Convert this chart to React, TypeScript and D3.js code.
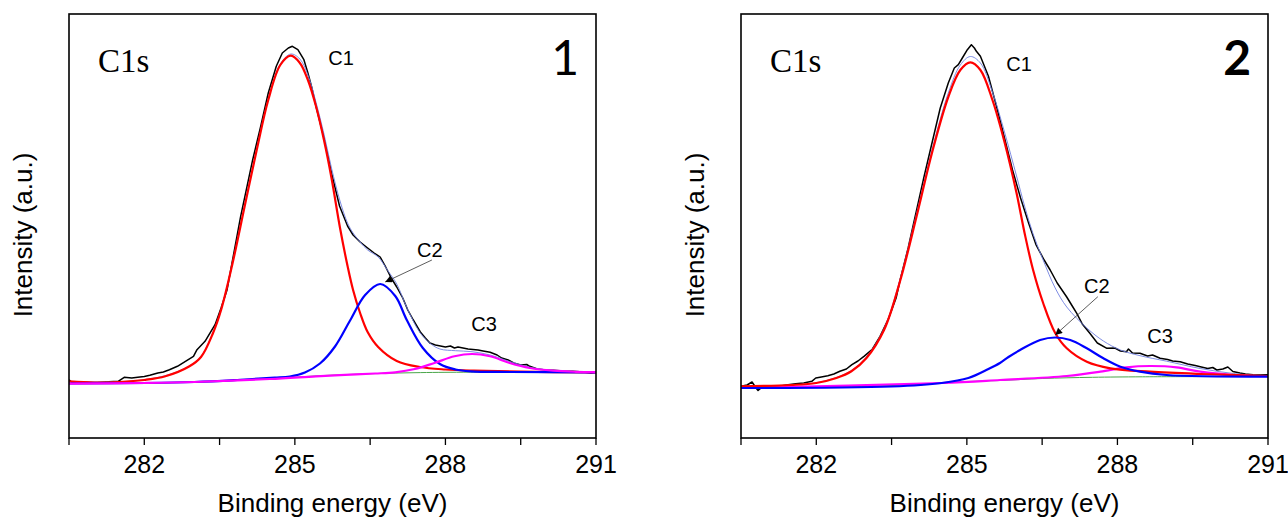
import React from 'react';
import * as d3 from 'd3';

type Pt = [number, number];

// ---- axes ----
const energyDomain: [number, number] = [280.5, 291];
const intensityDomain: [number, number] = [0, 424];
const tickEnergies = [280.5, 282, 283.5, 285, 286.5, 288, 289.5, 291];
const labelledEnergies = [282, 285, 288, 291];
const xTitle = 'Binding energy (eV)';
const yTitle = 'Intensity (a.u.)';
const coreLevel = 'C1s';
const peakNames = ['C1', 'C2', 'C3'];
const panelTags = ['1', '2'];

// ---- sample 1 ----
const spectrum1: Pt[] = [
  [280.5, 58.3], [280.55, 56], [280.69, 55], [280.85, 55.5], [281.0, 55], [281.2, 56], [281.48, 56.7],
  [281.6, 60.7], [281.75, 60], [281.87, 60.7], [282.0, 61.5], [282.11, 62.7], [282.27, 65], [282.38, 66],
  [282.5, 68.3], [282.66, 71.7], [282.82, 76.7], [282.98, 81.7], [283.05, 88.3], [283.21, 96.7],
  [283.41, 113.3], [283.53, 130], [283.65, 148.3], [283.76, 178.3], [283.92, 221.7], [284.16, 278.3],
  [284.32, 311.7], [284.47, 345], [284.63, 371.7], [284.75, 385], [284.87, 390], [284.95, 391.7],
  [285.06, 388.3], [285.18, 378.3], [285.26, 365], [285.34, 350], [285.42, 332], [285.58, 300],
  [285.73, 265], [285.89, 232], [286.05, 212], [286.16, 203], [286.3, 196], [286.45, 190], [286.58, 185],
  [286.7, 181], [286.8, 172], [286.92, 160], [287.03, 151], [287.15, 140], [287.25, 128], [287.36, 118],
  [287.5, 106], [287.6, 100], [287.69, 95], [287.8, 93], [287.9, 92], [288.0, 91], [288.1, 92],
  [288.18, 90], [288.25, 91], [288.35, 90], [288.45, 89], [288.55, 88.5], [288.65, 88], [288.75, 87],
  [288.89, 85.7], [289.03, 83], [289.12, 80], [289.25, 78], [289.36, 75], [289.5, 73], [289.62, 73.5],
  [289.68, 71.7], [289.83, 69], [290.0, 68], [290.15, 67.7], [290.35, 67], [290.54, 66.7], [290.75, 66],
  [290.9, 65], [291.0, 65.7],
];
const envelope1: Pt[] = [
  [280.5, 56.7], [281.5, 56.3], [282.0, 58.3], [282.5, 63.5], [282.9, 72], [283.13, 81.5], [283.37, 105.5],
  [283.53, 128.5], [283.76, 176], [284.0, 232.5], [284.24, 289], [284.47, 339], [284.71, 374], [284.92, 384],
  [285.1, 379], [285.26, 363], [285.42, 336], [285.58, 304], [285.73, 270], [285.9, 237], [286.05, 215],
  [286.16, 205], [286.3, 196], [286.45, 188], [286.66, 181], [286.85, 167.5], [287.03, 154], [287.23, 130.5],
  [287.49, 105.6], [287.7, 94.5], [287.89, 89], [288.2, 87.3], [288.53, 86.3], [288.89, 83], [289.28, 76.5],
  [289.68, 70.8], [290.15, 67.5], [291.0, 65.8],
];
const c1Fit1: Pt[] = [
  [280.5, 56.7], [281.0, 55.5], [281.5, 56], [282.0, 58], [282.42, 61.7], [282.9, 71.7], [283.13, 81],
  [283.37, 105], [283.53, 128], [283.76, 175], [284.0, 231.7], [284.24, 288], [284.47, 338], [284.71, 373],
  [284.92, 382.3], [285.1, 375], [285.26, 358], [285.42, 332], [285.58, 298], [285.73, 260], [285.9, 210],
  [286.05, 172], [286.16, 148], [286.3, 125], [286.45, 106], [286.66, 91], [287.03, 77], [287.49, 71],
  [288.0, 68.5], [288.57, 67.3], [289.5, 66.3], [291.0, 65.7],
];
const c2Fit1: Pt[] = [
  [280.5, 54.5], [283.0, 56], [284.0, 58.5], [284.6, 60.3], [284.9, 61.5], [285.2, 65.5], [285.5, 74.5],
  [285.8, 91.5], [286.1, 117.5], [286.4, 143], [286.7, 154], [287.0, 142], [287.23, 118], [287.55, 90],
  [287.89, 74], [288.2, 68.5], [288.5, 66.6], [289.3, 66], [291.0, 65.7],
];
const c3Fit1: Pt[] = [
  [280.5, 54.3], [282.0, 55], [283.0, 56], [284.5, 59], [285.42, 61.7], [286.0, 63.2], [286.6, 64.5],
  [287.0, 65.7], [287.39, 69], [287.78, 75], [288.18, 81.7], [288.53, 84], [288.89, 81.7], [289.28, 75],
  [289.68, 70], [290.15, 67.3], [290.6, 66.2], [291.0, 65.8],
];
const background1: Pt[] = [
  [280.5, 54.5], [282.0, 55], [283.5, 56.8], [284.5, 59.3], [285.5, 62.3], [286.5, 64.3], [287.5, 65.4],
  [288.5, 65.8], [291.0, 65.8],
];
const peakLabels1: Pt[] = [[285.92, 373.5], [287.69, 181.3], [288.77, 107]];
const c2Arrow1: Pt[] = [[287.73, 178], [286.8, 156]];

// ---- sample 2 ----
const spectrum2: Pt[] = [
  [280.5, 51.7], [280.62, 53], [280.72, 56], [280.8, 50], [280.84, 47.5], [280.9, 50], [280.96, 51],
  [281.1, 52], [281.27, 51.7], [281.4, 53], [281.59, 54.3], [281.75, 55], [281.91, 56.7], [281.99, 60],
  [282.1, 61], [282.23, 62.3], [282.35, 64], [282.47, 66.7], [282.6, 69], [282.71, 73.3], [282.83, 77],
  [282.95, 81.7], [283.11, 88.3], [283.27, 101.7], [283.43, 118.3], [283.59, 140], [283.67, 158],
  [283.83, 190], [283.99, 226], [284.15, 262], [284.31, 296], [284.47, 330], [284.63, 355], [284.75, 370],
  [284.83, 373.3], [284.91, 380], [285.01, 388.3], [285.09, 393.3], [285.15, 390], [285.19, 386.7],
  [285.27, 381.7], [285.43, 361.7], [285.59, 331.7], [285.75, 300], [285.91, 268], [286.07, 240],
  [286.23, 215], [286.38, 193], [286.54, 178], [286.66, 168], [286.8, 155], [286.99, 141], [287.1, 132],
  [287.19, 124.7], [287.3, 114], [287.45, 104.7], [287.6, 95], [287.79, 89.7], [287.95, 90], [288.06, 87],
  [288.18, 86.3], [288.22, 89], [288.3, 85], [288.45, 84.7], [288.6, 82], [288.7, 83], [288.85, 79.7],
  [289.0, 78.5], [289.1, 77], [289.25, 76.3], [289.4, 74], [289.55, 72.5], [289.65, 71.3], [289.8, 69.5],
  [289.9, 70.5], [289.98, 68], [290.1, 69], [290.2, 71], [290.3, 66.5], [290.44, 65], [290.55, 64],
  [290.7, 63.3], [290.85, 63], [291.0, 63.3],
];
const envelope2: Pt[] = [
  [280.5, 51.7], [281.5, 53], [282.0, 55.3], [282.4, 60.5], [282.7, 67.5], [283.0, 81], [283.35, 109.5],
  [283.67, 159], [284.0, 225], [284.31, 289], [284.63, 345], [284.87, 373], [285.07, 381.5], [285.27, 375],
  [285.51, 346], [285.75, 306], [285.99, 262], [286.15, 232], [286.32, 204], [286.52, 178],
  [286.76, 150], [286.99, 131], [287.39, 110], [287.72, 97], [288.06, 88], [288.45, 82.3],
  [288.98, 76.8], [289.65, 69.5], [290.31, 64.5], [291.0, 62],
];
const c1Fit2: Pt[] = [
  [280.5, 51.7], [281.5, 53], [282.0, 55], [282.4, 60], [282.7, 66.7], [283.0, 80], [283.35, 108],
  [283.67, 157], [284.0, 222], [284.31, 286], [284.63, 341], [284.87, 368], [285.07, 375.7], [285.27, 368],
  [285.51, 338], [285.75, 296], [285.99, 245], [286.15, 205], [286.32, 168], [286.52, 135], [286.76, 105],
  [286.99, 89.7], [287.39, 76.3], [287.86, 69.7], [288.65, 66.3], [289.65, 64], [291.0, 62],
];
const c2Fit2: Pt[] = [
  [280.5, 50], [283.5, 51.5], [284.5, 55], [285.03, 60], [285.43, 69], [285.66, 75], [285.83, 81],
  [286.06, 88], [286.46, 98], [286.76, 100.5], [287.06, 98], [287.39, 89.7], [287.72, 79.7], [288.06, 71.3],
  [288.45, 66.3], [288.98, 63], [291.0, 61.3],
];
const c3Fit2: Pt[] = [
  [280.5, 50], [284.5, 55], [285.66, 58], [286.99, 62], [287.66, 66.3], [288.18, 70.7], [288.65, 72],
  [289.18, 70.7], [289.65, 66.3], [290.31, 63], [291.0, 61.8],
];
const background2: Pt[] = [
  [280.5, 50], [282.5, 51], [284.0, 53.5], [285.0, 56.5], [285.66, 57.5], [286.5, 59.5], [287.5, 60.7],
  [288.5, 61.2], [291.0, 61.5],
];
const peakLabels2: Pt[] = [[286.04, 367.3], [287.59, 145], [288.85, 94.7]];
const c2Arrow2: Pt[] = [[287.61, 141.3], [286.76, 103]];

// ---- styling ----
const PLOT_W = 527;
const PLOT_H = 424;
const TOP = 14;
const SANS = 'Arial, "Liberation Sans", Helvetica, sans-serif';

type Series = { key: string; pts: Pt[]; color: string; width: number; smooth: boolean };

type PanelProps = {
  left: number;
  tag: string;
  spectrum: Pt[];
  envelope: Pt[];
  background: Pt[];
  components: Series[];
  labels: Pt[];
  arrow: Pt[];
  idx: number;
};

function Panel({ left, tag, spectrum, envelope, background, components, labels, arrow, idx }: PanelProps) {
  const x = d3.scaleLinear().domain(energyDomain).range([0, PLOT_W]);
  const y = d3.scaleLinear().domain(intensityDomain).range([PLOT_H, 0]);
  const rough = d3.line<Pt>().x((d) => x(d[0])).y((d) => y(d[1]));
  const smooth = d3
    .line<Pt>()
    .x((d) => x(d[0]))
    .y((d) => y(d[1]))
    .curve(d3.curveCatmullRom.alpha(0.5));
  const clipId = `plot-clip-${idx}`;
  const markerId = `arrow-head-${idx}`;

  return (
    <g transform={`translate(${left},${TOP})`}>
      <defs>
        <clipPath id={clipId}>
          <rect x={0} y={0} width={PLOT_W} height={PLOT_H} />
        </clipPath>
        <marker
          id={markerId}
          viewBox="0 0 10 10"
          refX={10}
          refY={5}
          markerWidth={9}
          markerHeight={7}
          markerUnits="userSpaceOnUse"
          orient="auto"
        >
          <path d="M0,0 L10,5 L0,10 z" fill="#000" />
        </marker>
      </defs>

      <g clipPath={`url(#${clipId})`}>
        <path d={rough(spectrum) ?? ''} fill="none" stroke="#000" strokeWidth={1.5} strokeLinejoin="round" />
        <path d={smooth(envelope) ?? ''} fill="none" stroke="#6f7fe0" strokeWidth={0.9} />
        <path d={smooth(background) ?? ''} fill="none" stroke="#4aa64a" strokeWidth={1} />
        {components.map((s) => (
          <path
            key={s.key}
            d={(s.smooth ? smooth : rough)(s.pts) ?? ''}
            fill="none"
            stroke={s.color}
            strokeWidth={s.width}
          />
        ))}
      </g>

      {/* C2 pointer */}
      <line
        x1={x(arrow[0][0])}
        y1={y(arrow[0][1])}
        x2={x(arrow[1][0])}
        y2={y(arrow[1][1])}
        stroke="#333"
        strokeWidth={0.8}
        markerEnd={`url(#${markerId})`}
      />

      {/* peak names */}
      {labels.map((p, i) => (
        <text
          key={peakNames[i]}
          x={x(p[0])}
          y={y(p[1])}
          textAnchor="middle"
          fontFamily={SANS}
          fontSize={20}
          fill="#000"
        >
          {peakNames[i]}
        </text>
      ))}

      <text x={29} y={58} fontFamily='"Times New Roman", "Liberation Serif", serif' fontSize={33} fill="#000">
        {coreLevel}
      </text>
      <text
        x={PLOT_W - 17}
        y={61}
        textAnchor="end"
        fontFamily='Lato, "Open Sans", sans-serif'
        fontSize={48}
        fontWeight={idx === 1 ? 700 : 400}
        fill="#000"
      >
        {tag}
      </text>

      {/* frame */}
      <rect x={0} y={0} width={PLOT_W} height={PLOT_H} fill="none" stroke="#000" strokeWidth={1.6} />

      {/* bottom axis */}
      {tickEnergies.map((e) => (
        <line key={e} x1={x(e)} x2={x(e)} y1={PLOT_H} y2={PLOT_H + 7} stroke="#000" strokeWidth={1.3} />
      ))}
      {labelledEnergies.map((e) => (
        <text key={e} x={x(e)} y={PLOT_H + 35} textAnchor="middle" fontFamily={SANS} fontSize={25} fill="#000">
          {e}
        </text>
      ))}
      <text x={PLOT_W / 2} y={PLOT_H + 74} textAnchor="middle" fontFamily={SANS} fontSize={26} fill="#000">
        {xTitle}
      </text>
      <text
        transform={`translate(-37,${221}) rotate(-90)`}
        textAnchor="middle"
        fontFamily={SANS}
        fontSize={26}
        fill="#000"
      >
        {yTitle}
      </text>
    </g>
  );
}

export default function App() {
  const comps1: Series[] = [
    { key: 'c1', pts: c1Fit1, color: '#ff0000', width: 2.2, smooth: true },
    { key: 'c2', pts: c2Fit1, color: '#0000ff', width: 2.2, smooth: true },
    { key: 'c3', pts: c3Fit1, color: '#ff00ff', width: 2.2, smooth: true },
  ];
  const comps2: Series[] = [
    { key: 'c3', pts: c3Fit2, color: '#ff00ff', width: 2.2, smooth: true },
    { key: 'c1', pts: c1Fit2, color: '#ff0000', width: 2.2, smooth: true },
    { key: 'c2', pts: c2Fit2, color: '#0000ff', width: 2.2, smooth: true },
  ];
  return (
    <svg
      width={1288}
      height={522}
      viewBox="0 0 1288 522"
      style={{ position: 'absolute', left: 0, top: 0, background: '#fff' }}
    >
      <rect x={0} y={0} width={1288} height={522} fill="#fff" />
      <Panel
        idx={0}
        left={69}
        tag={panelTags[0]}
        spectrum={spectrum1}
        envelope={envelope1}
        background={background1}
        components={comps1}
        labels={peakLabels1}
        arrow={c2Arrow1}
      />
      <Panel
        idx={1}
        left={741}
        tag={panelTags[1]}
        spectrum={spectrum2}
        envelope={envelope2}
        background={background2}
        components={comps2}
        labels={peakLabels2}
        arrow={c2Arrow2}
      />
    </svg>
  );
}
